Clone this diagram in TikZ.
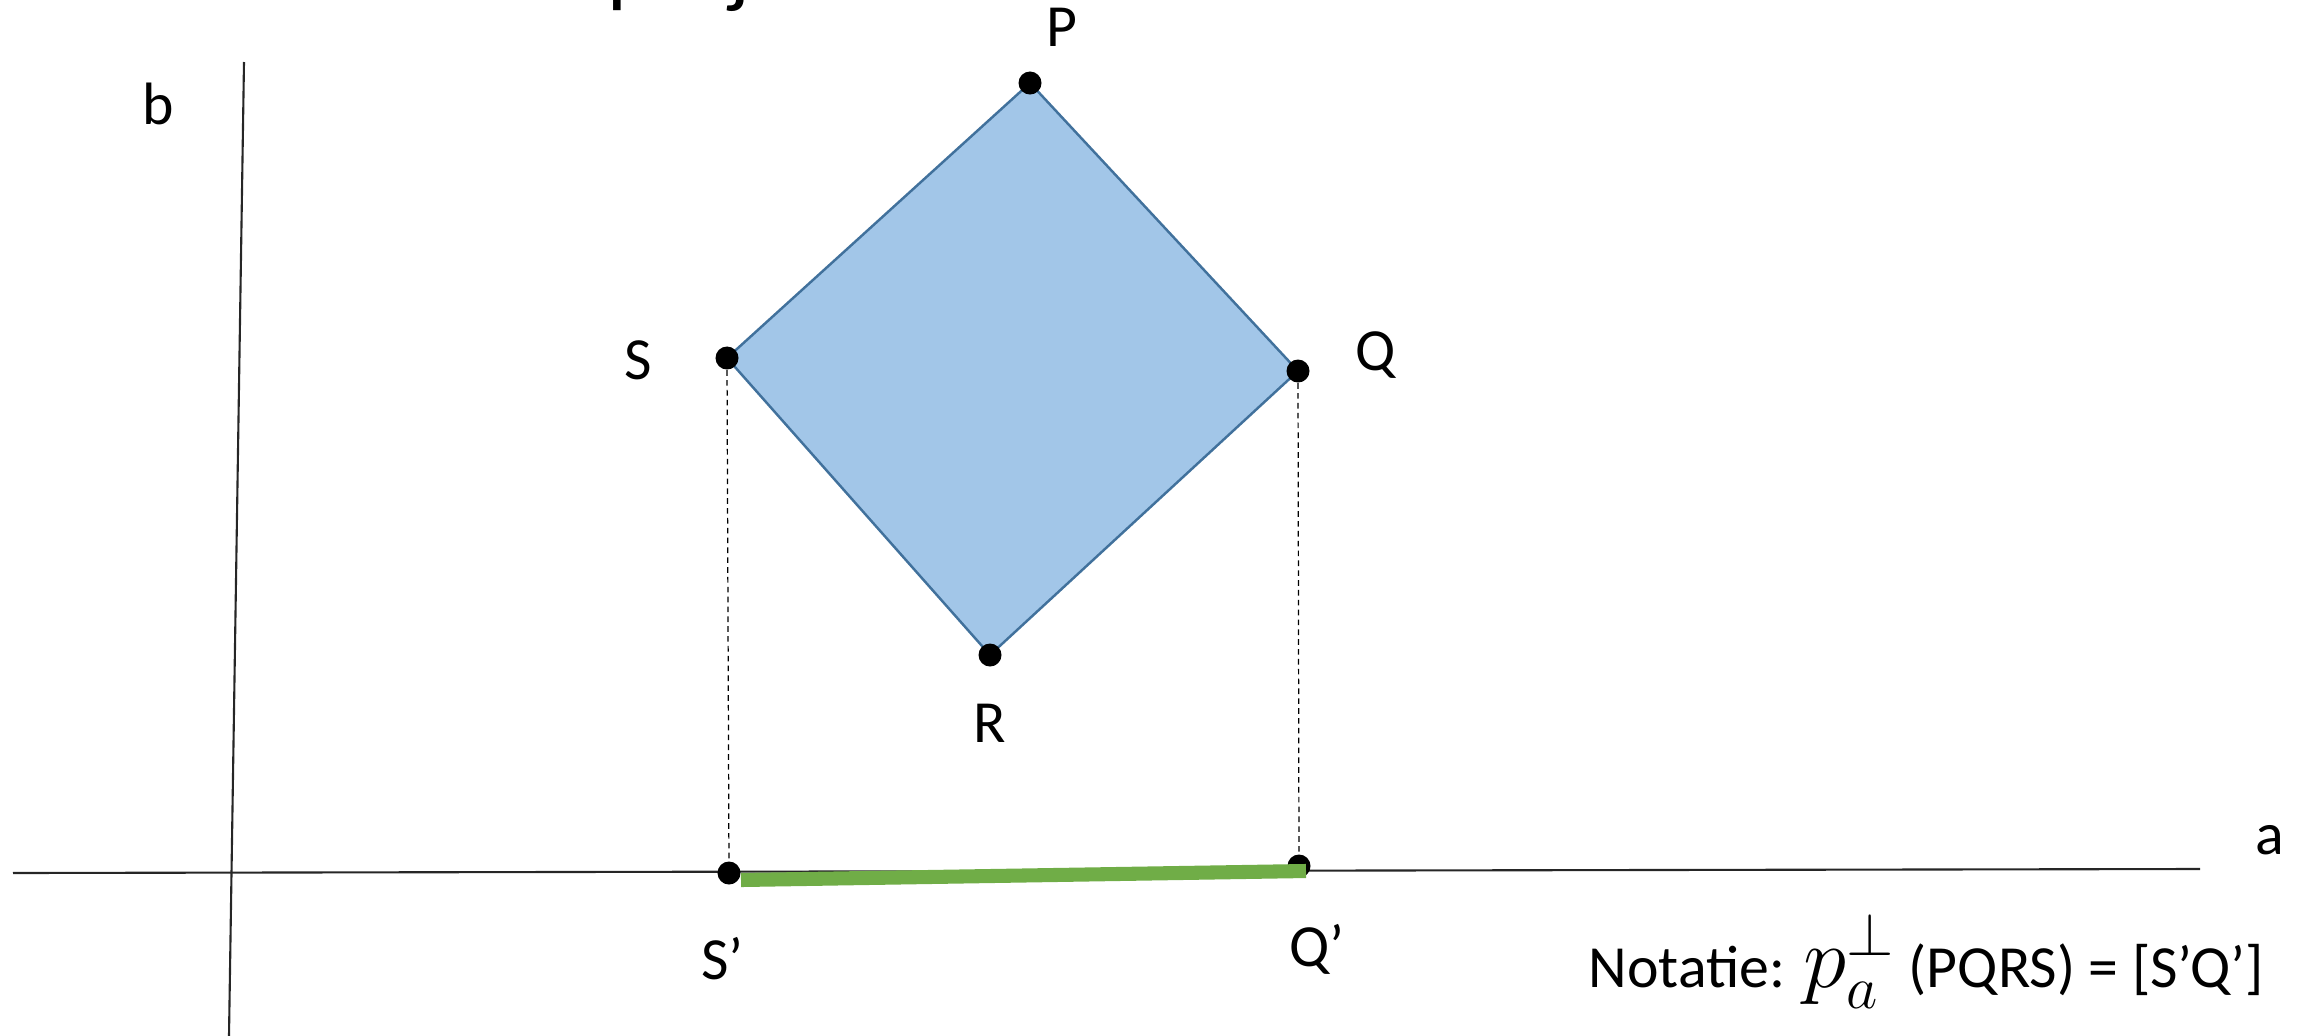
\documentclass[tikz,border=0pt]{standalone}
\usepackage{fontspec}
\setmainfont{Carlito}
\usepackage{tikz}
\usetikzlibrary{backgrounds}
\definecolor{vlakblauw}{HTML}{A2C6E8}
\definecolor{randblauw}{HTML}{41719C}
\definecolor{groen}{HTML}{70AD47}

\begin{document}
\begin{tikzpicture}[x=0.01cm,y=-0.01cm,
  punt/.style={circle,fill=black,inner sep=0pt,minimum size=0.23cm},
  lbl/.style={inner sep=0pt,font=\fontsize{17}{20}\selectfont},
  titel/.style={inner sep=0pt,font=\fontsize{25}{30}\selectfont},
  as/.style={line width=0.6pt,black!85},
  vlak/.style={fill=vlakblauw,draw=randblauw,line width=0.7pt,line join=round},
  stip/.style={dash pattern=on 1.6pt off 1.2pt,line width=0.35pt},
  balk/.style={groen,line width=4pt}
]
  \useasboundingbox (0,0) rectangle (2320,1036);
  \node[titel,anchor=base east] (titel) at (925,-4) {Loodrechte projectie};

  % assen
  \coordinate (xa0) at (13,873);
  \coordinate (xa1) at (2200,869);
  \coordinate (ya0) at (229,1036);
  \coordinate (ya1) at (244,62);
  \draw[as] (xa0) -- (xa1);
  \draw[as] (ya0) -- (ya1);
  \node[lbl] (la) at (2270,840) {a};
  \node[lbl] (lb) at (158,104) {b};

  % vierkant PQRS
  \node[punt] (P) at (1030,83) {};
  \node[punt] (Q) at (1298,371) {};
  \node[punt] (R) at (990,655) {};
  \node[punt] (S) at (727,358) {};
  \begin{scope}[on background layer]
    \filldraw[vlak] (P.center) -- (Q.center) -- (R.center) -- (S.center) -- cycle;
  \end{scope}
  \node[lbl] (lP) at (1062,27) {P};
  \node[lbl] (lQ) at (1376,355) {Q};
  \node[lbl] (lR) at (990,723) {R};
  \node[lbl] (lS) at (638,360) {S};

  % projecties
  \node[punt] (S1) at (729,873) {};
  \node[punt] (Q1) at (1299,866) {};
  \draw[stip] (S) -- (S1);
  \draw[stip] (Q) -- (Q1);
  \coordinate (g0) at (741,880);
  \coordinate (g1) at (1306,871);
  \draw[balk] (g0) -- (g1);
  \node[lbl] (lS1) at (722,959) {S’};
  \node[lbl] (lQ1) at (1317,949) {Q’};

  \node[lbl,anchor=west] (notatie) at (1588,961)
    {Notatie: {\fontsize{23}{26}\selectfont$p_a^{\perp}$} (PQRS) = [S’Q’]};
\end{tikzpicture}
\end{document}
